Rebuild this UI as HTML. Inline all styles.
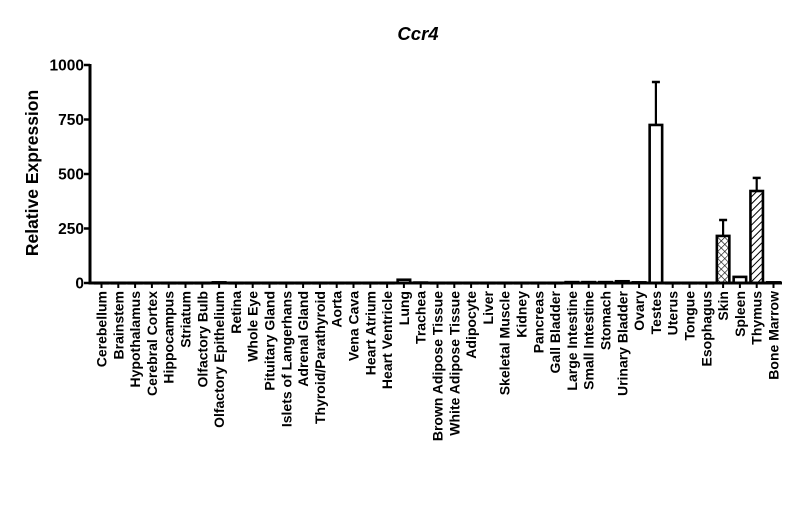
<!DOCTYPE html>
<html><head><meta charset="utf-8"><style>
body{margin:0;background:#fff;}
svg text{font-family:"Liberation Sans",Arial,sans-serif;font-weight:bold;fill:#000;}
</style></head><body>
<svg id="chart" width="800" height="522" xmlns="http://www.w3.org/2000/svg">
<defs>
<pattern id="hatch" width="5" height="5" patternUnits="userSpaceOnUse" patternTransform="rotate(45)"><line x1="0" y1="0" x2="0" y2="5" stroke="#000" stroke-width="2"/></pattern>
<pattern id="cross" width="5" height="5" patternUnits="userSpaceOnUse" patternTransform="rotate(45)"><line x1="0" y1="0" x2="0" y2="5" stroke="#000" stroke-width="1.2"/><line x1="0" y1="0" x2="5" y2="0" stroke="#000" stroke-width="1.2"/></pattern>
</defs>
<text x="418" y="40" text-anchor="middle" font-size="18.5" font-style="italic">Ccr4</text>
<text transform="translate(38,173) rotate(-90)" text-anchor="middle" font-size="17.5">Relative Expression</text>
<g id="plot"></g>
</svg>
<script>
const categories=["Cerebellum","Brainstem","Hypothalamus","Cerebral Cortex","Hippocampus","Striatum","Olfactory Bulb","Olfactory Epithelium","Retina","Whole Eye","Pituitary Gland","Islets of Langerhans","Adrenal Gland","Thyroid/Parathyroid","Aorta","Vena Cava","Heart Atrium","Heart Ventricle","Lung","Trachea","Brown Adipose Tissue","White Adipose Tissue","Adipocyte","Liver","Skeletal Muscle","Kidney","Pancreas","Gall Bladder","Large Intestine","Small Intestine","Stomach","Urinary Bladder","Ovary","Testes","Uterus","Tongue","Esophagus","Skin","Spleen","Thymus","Bone Marrow"];
const values=[1,1,1,1,1,1,1,3,1,1,1,1,1,1,1,1,1,1,15,2,1,1,1,1,1,1,1,1,4,4,4,8,3,725,1,1,1,216,28,422,3];
const errors=[0,0,0,0,0,0,0,0,0,0,0,0,0,0,0,0,0,0,0,0,0,0,0,0,0,0,0,0,0,0,0,0,0,197,0,0,0,73,0,60,0];
const fills=["white","white","white","white","white","white","white","white","white","white","white","white","white","white","white","white","white","white","white","white","white","white","white","white","white","white","white","white","white","white","white","white","white","white","white","white","white","cross","white","hatch","white"];
const yTicks=[0,250,500,750,1000];
const NS="http://www.w3.org/2000/svg";
const g=document.getElementById('plot');
const x0=101.5,dx=16.8,y0=283,yTop=65;
function xs(i){return x0+i*dx;}
function ys(v){return y0-(v/1000)*(y0-yTop);}
function mk(t,a){const e=document.createElementNS(NS,t);for(const k in a)e.setAttribute(k,a[k]);g.appendChild(e);return e;}
values.forEach((v,i)=>{
 const cx=xs(i),w=12.5;
 const f=fills[i]==="white"?"#fff":"url(#"+fills[i]+")";
 if(errors[i]>0){
  const el=mk('line',{x1:cx,x2:cx,y1:ys(v),y2:ys(v+errors[i]),stroke:"#000","stroke-width":2.2});
  
  
  const cap=mk('line',{x1:cx-4,x2:cx+4,y1:ys(v+errors[i]),y2:ys(v+errors[i]),stroke:"#000","stroke-width":2.5});
  
  
 }
 const r=mk('rect',{x:cx-w/2,y:ys(v),width:w,height:Math.max(0.5,y0-ys(v)),fill:f,stroke:"#000","stroke-width":2.6});
 
 
 const tk=mk('line',{x1:cx,x2:cx,y1:y0,y2:y0+5,stroke:"#000","stroke-width":2});
 
 
 const t=mk('text',{transform:`translate(${cx+5},${y0+8}) rotate(-90)`,"text-anchor":"end","font-size":"14"});
 t.textContent=categories[i];
 
 
});
yTicks.forEach(v=>{
 const l=mk('line',{x1:84,x2:90,y1:ys(v),y2:ys(v),stroke:"#000","stroke-width":2.5});
 
 
 const t=mk('text',{x:84,y:ys(v)+5.5,"text-anchor":"end","font-size":"15.5"});
 t.textContent=v;
 
 
});
const ya=mk('line',{x1:90,x2:90,y1:yTop-1,y2:y0+1.5,stroke:"#000","stroke-width":3});


const xa=mk('line',{x1:88.5,x2:782,y1:y0,y2:y0,stroke:"#000","stroke-width":3});


</script>
</body></html>
